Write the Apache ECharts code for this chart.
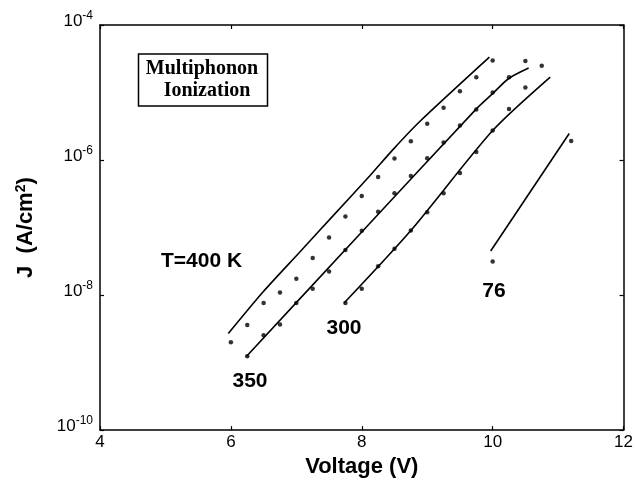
<!DOCTYPE html>
<html>
<head>
<meta charset="utf-8">
<script src="https://cdn.jsdelivr.net/npm/echarts@6/dist/echarts.min.js"></script>
<style>
  html, body { margin: 0; padding: 0; background: #fff; }
  #chart { width: 636px; height: 483px; }
</style>
</head>
<body>
<div id="chart"></div>
<script>
// measured points (dots), V and J in A/cm^2
const volt400 = [6.0, 6.25, 6.5, 6.75, 7.0, 7.25, 7.5, 7.75, 8.0, 8.25, 8.5, 8.75, 9.0, 9.25, 9.5, 9.75, 10.0]
const j400 = [2.0e-9, 3.6e-9, 7.6e-9, 1.09e-8, 1.74e-8, 3.55e-8, 7.1e-8, 1.46e-7, 2.94e-7, 5.6e-7, 1.05e-6, 1.9e-6, 3.44e-6, 5.97e-6, 1.04e-5, 1.69e-5, 2.98e-5]

const volt350 = [6.25, 6.5, 6.75, 7.0, 7.25, 7.5, 7.75, 8.0, 8.25, 8.5, 8.75, 9.0, 9.25, 9.5, 9.75, 10.0, 10.25, 10.5]
const j350 = [1.24e-9, 2.54e-9, 3.67e-9, 7.66e-9, 1.24e-8, 2.23e-8, 4.66e-8, 9.0e-8, 1.72e-7, 3.22e-7, 5.8e-7, 1.06e-6, 1.82e-6, 3.24e-6, 5.58e-6, 1.0e-5, 1.69e-5, 2.92e-5]

const volt300 = [7.75, 8.0, 8.25, 8.5, 8.75, 9.0, 9.25, 9.5, 9.75, 10.0, 10.25, 10.5, 10.75]
const j300 = [7.62e-9, 1.24e-8, 2.68e-8, 4.86e-8, 9.04e-8, 1.68e-7, 3.22e-7, 6.43e-7, 1.31e-6, 2.73e-6, 5.71e-6, 1.19e-5, 2.49e-5]

const volt76 = [10.0, 11.2]
const j76 = [3.13e-8, 1.91e-6]

// model curves
const fitVolt400 = [5.96, 6.49, 7.05, 7.56, 8.12, 8.48, 8.89, 9.95]
const fitJ400 = [2.69e-9, 1.11e-8, 4.31e-8, 1.49e-7, 5.81e-7, 1.44e-6, 3.75e-6, 3.34e-5]
const fitVolt350 = [6.24, 8.0, 9.74, 10.0, 10.24, 10.55]
const fitJ350 = [1.24e-9, 8.59e-8, 5.58e-6, 9.62e-6, 1.60e-5, 2.30e-5]
const fitVolt300 = [7.73, 8.75, 10.0, 10.88]
const fitJ300 = [7.62e-9, 9.04e-8, 2.73e-6, 1.69e-5]
const fitVolt76 = [9.97, 11.17]
const fitJ76 = [4.5e-8, 2.47e-6]

const zip = (xs, ys) => xs.map((x, i) => [x, ys[i]])

const chart = echarts.init(document.getElementById('chart'))

const FONT = '"Liberation Sans", Arial, sans-serif'

function expLabel(v) {
  const e = Math.round(Math.log10(v))
  return '{b|10}{s|' + e + '}'
}

const axisLine = { show: true, lineStyle: { color: '#000', width: 1.5 } }
const tick = { show: true, inside: true, length: 4, lineStyle: { color: '#000', width: 1.2 } }

function dots(data) {
  return {
    type: 'scatter',
    data: data,
    symbol: 'circle',
    symbolSize: 4.5,
    itemStyle: { color: '#000' },
    silent: true
  }
}

function curve(data) {
  return {
    type: 'line',
    data: data,
    showSymbol: false,
    smooth: 0.25,
    lineStyle: { color: '#000', width: 1.6 },
    silent: true
  }
}

const option = {
  animation: false,
  grid: { left: 100, right: 12, top: 25, bottom: 51 },
  xAxis: [
    {
      type: 'value',
      min: 4,
      max: 12,
      interval: 2,
      name: 'Voltage (V)',
      nameLocation: 'middle',
      nameGap: 23,
      nameTextStyle: { fontFamily: FONT, fontSize: 22, fontWeight: 'bold', color: '#000' },
      axisLine: axisLine,
      axisTick: tick,
      axisLabel: { fontFamily: FONT, fontSize: 17, color: '#000', margin: 4 },
      splitLine: { show: false }
    },
    {
      type: 'value',
      position: 'top',
      min: 4,
      max: 12,
      interval: 2,
      axisLine: axisLine,
      axisTick: tick,
      axisLabel: { show: false },
      splitLine: { show: false }
    }
  ],
  yAxis: [
    {
      type: 'log',
      logBase: 10,
      min: 1e-10,
      max: 1e-4,
      interval: 2,
      name: 'J  (A/cm{s|2})',
      nameLocation: 'middle',
      nameGap: 62,
      nameTextStyle: {
        fontFamily: FONT, fontSize: 22, fontWeight: 'bold', color: '#000',
        rich: { s: { fontFamily: FONT, fontSize: 14, fontWeight: 'bold', color: '#000', verticalAlign: 'top', padding: [0, 0, 10, 0] } }
      },
      axisLine: axisLine,
      axisTick: tick,
      axisLabel: {
        formatter: expLabel,
        margin: 7,
        padding: [0, 0, 8, 0],
        rich: {
          b: { fontFamily: FONT, fontSize: 17, color: '#000' },
          s: { fontFamily: FONT, fontSize: 12, color: '#000', padding: [0, 0, 10, 0] }
        }
      },
      splitLine: { show: false },
      minorTick: { show: false }
    },
    {
      type: 'log',
      logBase: 10,
      min: 1e-10,
      max: 1e-4,
      interval: 2,
      position: 'right',
      axisLine: axisLine,
      axisTick: tick,
      axisLabel: { show: false },
      splitLine: { show: false }
    }
  ],
  series: [
    curve(zip(fitVolt400, fitJ400)),
    curve(zip(fitVolt350, fitJ350)),
    curve(zip(fitVolt300, fitJ300)),
    curve(zip(fitVolt76, fitJ76)),
    dots(zip(volt400, j400)),
    dots(zip(volt350, j350)),
    dots(zip(volt300, j300)),
    dots(zip(volt76, j76))
  ],
  graphic: [
    {
      type: 'rect',
      shape: { x: 138.5, y: 54, width: 129, height: 52 },
      style: { fill: '#fff', stroke: '#000', lineWidth: 1.5 }
    },
    {
      type: 'text',
      style: { x: 202, y: 69, text: 'Multiphonon', textAlign: 'center', textVerticalAlign: 'middle',
        font: 'bold 20px "Liberation Serif", "Times New Roman", serif', fill: '#000' }
    },
    {
      type: 'text',
      style: { x: 207, y: 91, text: 'Ionization', textAlign: 'center', textVerticalAlign: 'middle',
        font: 'bold 20px "Liberation Serif", "Times New Roman", serif', fill: '#000' }
    },
    {
      type: 'text',
      style: { x: 161, y: 261, text: 'T=400 K', textAlign: 'left', textVerticalAlign: 'middle',
        font: 'bold 21px ' + FONT, fill: '#000' }
    },
    {
      type: 'text',
      style: { x: 250, y: 381, text: '350', textAlign: 'center', textVerticalAlign: 'middle',
        font: 'bold 21px ' + FONT, fill: '#000' }
    },
    {
      type: 'text',
      style: { x: 344, y: 328, text: '300', textAlign: 'center', textVerticalAlign: 'middle',
        font: 'bold 21px ' + FONT, fill: '#000' }
    },
    {
      type: 'text',
      style: { x: 494, y: 291, text: '76', textAlign: 'center', textVerticalAlign: 'middle',
        font: 'bold 21px ' + FONT, fill: '#000' }
    }
  ]
}

chart.setOption(option)
</script>
</body>
</html>
